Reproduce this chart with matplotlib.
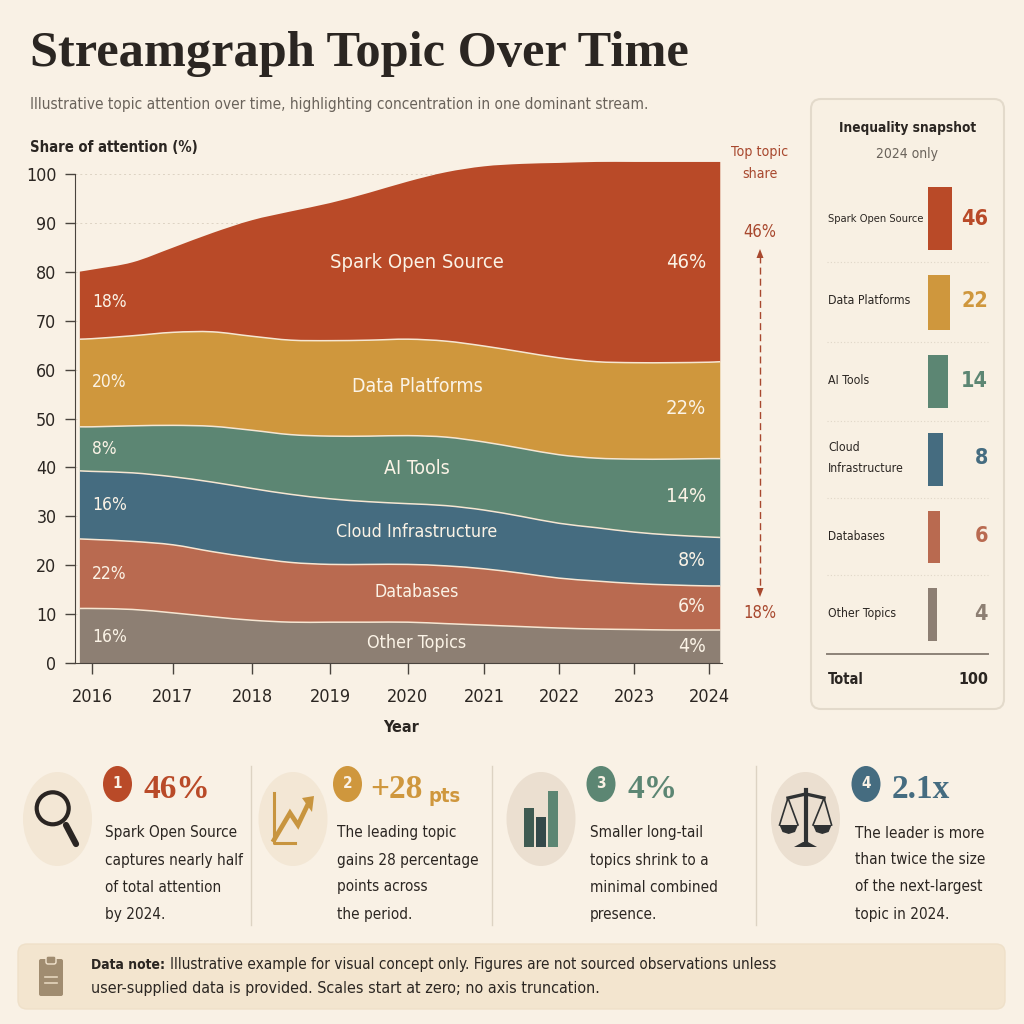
import numpy as np
import matplotlib
matplotlib.use('Agg')
import matplotlib.pyplot as plt
from matplotlib import font_manager
from matplotlib.patches import Circle, Ellipse, FancyBboxPatch, PathPatch, Polygon, Rectangle
from matplotlib.path import Path

# stream edges at half-year steps
x_years = [2015.85, 2016, 2016.5, 2017, 2017.5, 2018, 2018.5, 2019, 2019.5, 2020,
           2020.5, 2021, 2021.5, 2022, 2022.5, 2023, 2023.5, 2024, 2024.15]
edge_other = [11.2, 11.2, 11.0, 10.3, 9.5, 8.8, 8.4, 8.4, 8.4, 8.4,
              8.1, 7.8, 7.5, 7.2, 7.0, 6.9, 6.8, 6.8, 6.8]
edge_db = [25.4, 25.3, 24.9, 24.2, 22.8, 21.6, 20.6, 20.2, 20.2, 20.2,
           19.9, 19.3, 18.4, 17.4, 16.8, 16.3, 16.0, 15.8, 15.8]
edge_cloud = [39.3, 39.2, 38.9, 38.1, 37.0, 35.7, 34.5, 33.6, 33.0, 32.6,
              32.2, 31.3, 30.0, 28.6, 27.7, 26.8, 26.2, 25.8, 25.7]
edge_ai = [48.3, 48.3, 48.5, 48.6, 48.4, 47.6, 46.7, 46.4, 46.4, 46.5,
           46.2, 45.2, 43.9, 42.6, 41.9, 41.7, 41.7, 41.8, 41.8]
edge_data = [66.2, 66.3, 66.9, 67.6, 67.7, 66.8, 66.0, 65.9, 66.0, 66.2,
             65.8, 64.8, 63.6, 62.4, 61.6, 61.4, 61.4, 61.5, 61.6]
edge_spark = [80.0, 80.4, 81.9, 84.9, 87.9, 90.5, 92.3, 94.0, 96.1, 98.4,
              100.3, 101.5, 102.0, 102.2, 102.4, 102.4, 102.4, 102.4, 102.4]

tick_years = [2016, 2017, 2018, 2019, 2020, 2021, 2022, 2023, 2024]
tick_px = [92, 173, 252, 330, 408, 484, 559, 634, 709]  # year ticks are not evenly spaced in the picture

topics = ['Spark Open Source', 'Data Platforms', 'AI Tools', 'Cloud\nInfrastructure', 'Databases', 'Other Topics']
snapshot = [46, 22, 14, 8, 6, 4]
colors = ['#B94A28', '#CF973D', '#5C8673', '#456C80', '#B96A50', '#8D7F73']

BG = '#F9F1E5'
INK = '#2B2622'

# use a condensed face if one is installed, the reference type is narrow
fonts = font_manager.fontManager.ttflist
narrow = sorted(f.fname for f in fonts if ('Condensed' in f.fname or 'Narrow' in f.fname)
                and 'Italic' not in f.fname and 'Oblique' not in f.fname)
NARROW_FILE = next((p for p in narrow if 'Bold' not in p and 'Light' not in p), None)
NARROW_BOLD = next((p for p in narrow if 'Bold' in p), NARROW_FILE)
SERIF = 'Liberation Serif'
plt.rcParams['font.family'] = 'Lato'

fig = plt.figure(figsize=(10.24, 10.24), dpi=100, facecolor=BG)


def to_px(years):
    return np.interp(years, [2015] + tick_years + [2025], [11] + tick_px + [784])


def from_px(px):
    return np.interp(px, [11] + tick_px + [784], [2015] + tick_years + [2025])


def curve_points(x, y):
    # one bezier segment between each pair of read values, only to draw them smooth
    pts = [(x[0], y[0])]
    n = len(x)
    for i in range(n - 1):
        dx = x[i + 1] - x[i]
        m0 = (y[i + 1] - y[max(i - 1, 0)]) / (x[i + 1] - x[max(i - 1, 0)])
        m1 = (y[min(i + 2, n - 1)] - y[i]) / (x[min(i + 2, n - 1)] - x[i])
        pts += [(x[i] + dx / 3, y[i] + m0 * dx / 3), (x[i + 1] - dx / 3, y[i + 1] - m1 * dx / 3),
                (x[i + 1], y[i + 1])]
    return pts


def face(size, weight='normal'):
    if NARROW_FILE:
        path = NARROW_BOLD if weight == 'bold' else NARROW_FILE
        return font_manager.FontProperties(fname=path, size=size)
    return font_manager.FontProperties(family='Lato', size=size, weight=weight)


# main chart
y0, per_unit = 663.3, 4.896
ax = fig.add_axes([74.5 / 1024, 1 - y0 / 1024, (722 - 74.5) / 1024, 104 * per_unit / 1024])
ax.set_facecolor('none')
ax.set_xscale('function', functions=(to_px, from_px))
ax.set_xlim(from_px(74.5), from_px(722))
ax.set_ylim(0, 104)

edges = [edge_spark, edge_data, edge_ai, edge_cloud, edge_db, edge_other, [0] * len(x_years)]
for i, col in enumerate(colors):
    top = curve_points(x_years, edges[i])
    bot = curve_points(x_years, edges[i + 1])
    n = len(top) - 1
    codes = [Path.MOVETO] + [Path.CURVE4] * n + [Path.LINETO] + [Path.CURVE4] * n + [Path.CLOSEPOLY]
    ax.add_patch(PathPatch(Path(top + bot[::-1] + [top[0]], codes), fc=col, ec='none', lw=0, zorder=2))
for e in edges[1:-1]:
    pts = curve_points(x_years, e)
    ax.add_patch(PathPatch(Path(pts, [Path.MOVETO] + [Path.CURVE4] * (len(pts) - 1)),
                           fc='none', ec='#F6E6D2', lw=1.1, zorder=3))

ax.set_yticks(range(0, 101, 10))
ax.set_xticks(tick_years)
ax.set_xticklabels([str(y) for y in tick_years])
ax.tick_params(axis='y', length=7, width=1, color='#4A443E', labelcolor=INK, pad=6)
ax.tick_params(axis='x', length=8, width=1, color='#4A443E', labelcolor=INK, pad=10)
for lab in ax.get_yticklabels():
    lab.set_fontproperties(face(12.8))
for lab in ax.get_xticklabels():
    lab.set_fontproperties(face(13))
ax.yaxis.grid(True, color='#DDD3C3', lw=0.7, ls=(0, (2, 3)), zorder=1)
ax.set_axisbelow(True)
for s in ['top', 'right']:
    ax.spines[s].set_visible(False)
ax.spines['left'].set_bounds(0, 100)
ax.spines['left'].set_color('#4A443E')
ax.spines['bottom'].set_color('#4A443E')

# everything else is placed in picture pixels
ov = fig.add_axes([0, 0, 1, 1], facecolor='none', zorder=5)
ov.set_xlim(0, 1024)
ov.set_ylim(1024, 0)
ov.axis('off')


def txt(x, y, s, size, color=INK, weight='normal', ha='left', family=None, **kw):
    if family is None:
        return ov.text(x, y, s, fontproperties=face(size, weight), color=color, ha=ha, va='center', **kw)
    return ov.text(x, y, s, fontsize=size, color=color, fontweight=weight, ha=ha, va='center',
                   family=family, **kw)


txt(30, 54, 'Streamgraph Topic Over Time', 36.3, INK, 'bold', family=SERIF)
txt(30, 105, 'Illustrative topic attention over time, highlighting concentration in one dominant stream.',
    11.1, '#6A635B')
txt(30, 147, 'Share of attention (%)', 10.6, INK, 'bold')
txt(401, 727, 'Year', 11.5, INK, 'bold', ha='center')

# stream names and percentages
WHITE = '#FBF3E6'
stream_names = ['Spark Open Source', 'Data Platforms', 'AI Tools', 'Cloud Infrastructure', 'Databases', 'Other Topics']
name_y = [262, 387, 468, 532, 592, 643]
left_pct = ['18%', '20%', '8%', '16%', '22%', '16%']
left_y = [302, 382, 449, 505, 574, 637]
right_pct = ['46%', '22%', '14%', '8%', '6%', '4%']
right_y = [263, 408, 497, 561, 607, 647]
name_size = [14.5, 14, 14, 12.9, 12.7, 12.9]
for i in range(6):
    txt(417, name_y[i], stream_names[i], name_size[i], WHITE, 'normal', ha='center')
    txt(92, left_y[i], left_pct[i], 12.5, WHITE)
    txt(706, right_y[i], right_pct[i], 14.5 if i < 3 else 14, WHITE, ha='right')

# top topic annotation
ARROW = '#A8482E'
txt(760, 152, 'Top topic', 10.2, ARROW, ha='center')
txt(760, 174, 'share', 10.2, ARROW, ha='center')
txt(760, 232, '46%', 12, ARROW, ha='center')
txt(760, 613, '18%', 12, ARROW, ha='center')
ov.plot([760, 760], [256, 590], color=ARROW, lw=1, ls=(0, (5, 3)))
ov.add_patch(Polygon([[760, 249], [756.5, 258], [763.5, 258]], color=ARROW, lw=0))
ov.add_patch(Polygon([[760, 597], [756.5, 588], [763.5, 588]], color=ARROW, lw=0))

# snapshot panel
ov.add_patch(FancyBboxPatch((811, 99), 193, 610, boxstyle='round,pad=0,rounding_size=10',
                            fc='#F8F0E3', ec='#E3DACB', lw=1.5))
txt(907.5, 128, 'Inequality snapshot', 9.8, INK, 'bold', ha='center')
txt(907.5, 154, '2024 only', 10, '#6A635B', ha='center')
bar_top = [187.3, 275.3, 355.3, 433.3, 511, 588.3]
bar_h = [62.7, 54.7, 53, 52.7, 52.3, 52.7]
bar_w = [24, 22.3, 20, 15.4, 12.4, 9]
label_y = [219, 301, 381, 458, 536, 614]
label_size = [8, 8.8, 8.8, 8.8, 8.6, 8.8]
for i in range(6):
    ov.bar(927.5, bar_h[i], width=bar_w[i], bottom=bar_top[i], align='edge', color=colors[i], lw=0)
    txt(828, label_y[i], topics[i], label_size[i], INK, linespacing=1.75)
    txt(988, label_y[i], str(snapshot[i]), 15.5, colors[i], 'bold', ha='right')
for y in [262.3, 341.7, 421, 498.3, 575.3]:
    ov.plot([827, 988], [y, y], color='#E0D7C8', lw=0.8, ls=(0, (1, 2)))
ov.plot([827, 988], [654, 654], color='#8D8378', lw=1.4)
txt(828, 680, 'Total', 10.5, INK, 'bold')
txt(988, 680, '100', 11.5, INK, 'bold', ha='right')

# takeaways row
card_x = [57.5, 293, 541, 805.5]
tint = ['#F3E7D5', '#F3E7D5', '#EBDFD0', '#EBDFD0']
badge_x = [117.5, 347.5, 601, 866]
big_x = [144, 370, 627, 892]
big = ['46%', '+28', '4%', '2.1x']
body_x = [105, 337, 590, 855]
body = [['Spark Open Source', 'captures nearly half', 'of total attention', 'by 2024.'],
        ['The leading topic', 'gains 28 percentage', 'points across', 'the period.'],
        ['Smaller long-tail', 'topics shrink to a', 'minimal combined', 'presence.'],
        ['The leader is more', 'than twice the size', 'of the next-largest', 'topic in 2024.']]
for i in range(4):
    ov.add_patch(Ellipse((card_x[i], 819), 69, 94, fc=tint[i], ec='none'))
    ov.add_patch(Ellipse((badge_x[i], 784), 29, 36, fc=colors[i], ec='none'))
    txt(badge_x[i], 784, str(i + 1), 11, BG, 'bold', ha='center')
    txt(big_x[i], 790, big[i], 24, colors[i], 'bold', family=SERIF)
    for j, line in enumerate(body[i]):
        txt(body_x[i], 833 + 27 * j, line, 11, INK)
txt(429, 796, 'pts', 14.5, colors[1], 'bold')
for x in [250.7, 491.7, 755.7]:
    ov.plot([x, x], [766, 925], color='#DDD3C3', lw=1)

# magnifier icon
ov.add_patch(Circle((52.7, 808.3), 16, fc='none', ec='#2A2522', lw=3))
ov.plot([66, 76], [825, 844], color='#2A2522', lw=4.5, solid_capstyle='round')

# trend icon
GOLD = '#C8953F'
ov.plot([273.5, 273.5, 295], [793, 843, 843], color=GOLD, lw=2.2)
ov.plot([274, 290, 298, 309], [840, 813, 825, 802], color=GOLD, lw=3.4, solid_joinstyle='miter')
ov.add_patch(Polygon([[302, 798], [314, 796], [312, 812]], color=GOLD, lw=0))

# bars icon
ov.add_patch(Rectangle((524, 808), 9.6, 38.7, fc='#3F5B52', lw=0))
ov.add_patch(Rectangle((536.3, 817), 9.2, 29.7, fc='#34494A', lw=0))
ov.add_patch(Rectangle((548, 790.7), 10, 56, fc='#5C8673', lw=0))

# scales icon
DARK = '#2F3233'
ov.plot([805.7, 805.7], [790, 843], color=DARK, lw=3)
ov.plot([788, 805.7, 824], [798, 794, 798], color=DARK, lw=2.4)
ov.add_patch(Polygon([[779.5, 825], [798, 825], [795, 832], [788.7, 834], [782.5, 832]], color=DARK, lw=0))
ov.add_patch(Polygon([[813, 825], [831.6, 825], [828.6, 832], [822.3, 834], [816, 832]], color=DARK, lw=0))
for a, b, c in [(788, 779.5, 798), (824, 813, 831.6)]:
    ov.plot([b, a, c], [825, 798, 825], color=DARK, lw=1.2)
ov.add_patch(Polygon([[794, 847], [817, 847], [808, 842], [803, 842]], color=DARK, lw=0))

# data note
ov.add_patch(FancyBboxPatch((18, 944), 987, 65, boxstyle='round,pad=0,rounding_size=9',
                            fc='#F3E5CF', ec='#EFE0C9', lw=1))
ov.add_patch(FancyBboxPatch((39, 959), 24, 37, boxstyle='round,pad=0,rounding_size=2', fc='#A08C70', lw=0))
ov.add_patch(FancyBboxPatch((46, 956), 10, 8, boxstyle='round,pad=0,rounding_size=2', fc='#A08C70', ec='#F3E5CF', lw=1))
for y in [977, 983]:
    ov.plot([45, 57], [y, y], color='#E5D6BE', lw=1.2)
txt(91, 965, 'Data note:', 10, INK, 'bold')
txt(169.5, 965, 'Illustrative example for visual concept only. Figures are not sourced observations unless', 11, INK)
txt(91, 989, 'user-supplied data is provided. Scales start at zero; no axis truncation.', 11.5, INK)

fig.savefig('out.png', dpi=100, facecolor=BG)
